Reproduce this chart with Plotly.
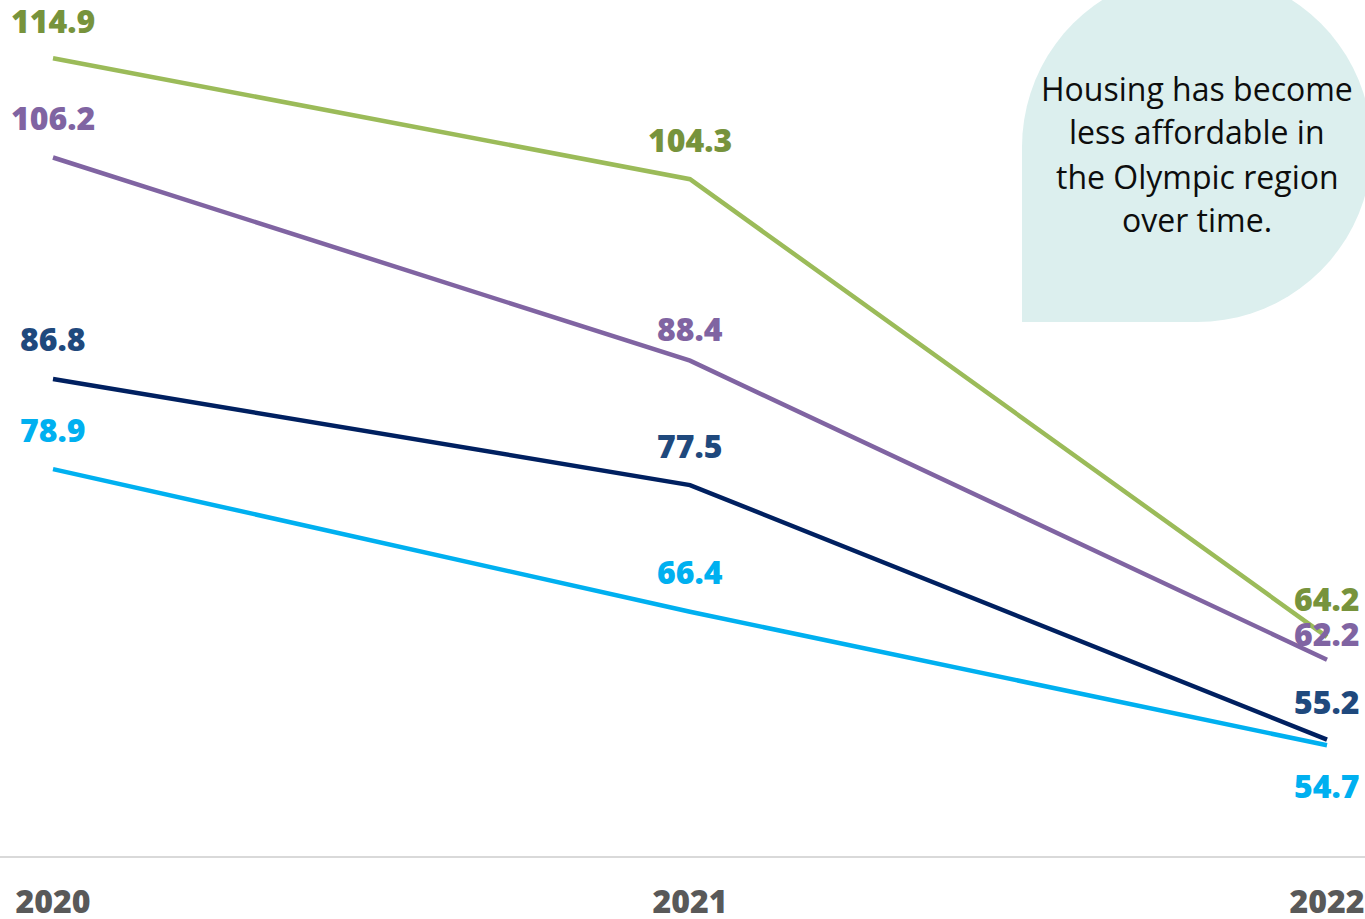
import math
import plotly.graph_objects as go

# Housing affordability index, Olympic region
years = [2020, 2021, 2022]
series_names = ["Series A", "Series B", "Series C", "Series D"]
series_a = [114.9, 104.3, 64.2]
series_b = [106.2, 88.4, 62.2]
series_c = [86.8, 77.5, 55.2]
series_d = [78.9, 66.4, 54.7]
tick_labels = ["2020", "2021", "2022"]
callout_lines = ["Housing has become", "less affordable in", "the Olympic region", "over time."]

W, H = 1365, 919
PLOT_BOTTOM = 856  # pixel row of the x axis line

line_colors = ["#9BBB59", "#8064A2", "#002060", "#00B0F0"]
label_colors = ["#77933C", "#8064A2", "#1F497D", "#00B0F0"]
# vertical label offsets in px (positive = up), one per point
label_shifts = [
    [38, 40, 38],
    [40, 32, 26],
    [40, 40, 38],
    [40, 40, -40],
]

fig = go.Figure()
all_series = [series_a, series_b, series_c, series_d]
for name, vals, lc in zip(series_names, all_series, line_colors):
    fig.add_trace(go.Scatter(
        x=years, y=vals, mode="lines", name=name,
        line=dict(color=lc, width=4.5), hoverinfo="skip", showlegend=False,
    ))

annotations = []
for vals, col, shifts in zip(all_series, label_colors, label_shifts):
    for x, v, s in zip(years, vals, shifts):
        annotations.append(dict(
            x=x, y=v, text=f"{v:.1f}", showarrow=False, yshift=s,
            xanchor="center", yanchor="middle",
            font=dict(family="Open Sans", size=32, color=col, weight=800),
        ))


def to_paper(px, py):
    return px / W, (PLOT_BOTTOM - py) / PLOT_BOTTOM


# callout bubble: circle with a square lower-left corner
cx, cy, r = 1197, 147, 175
pts = [(cx - r, cy + r), (cx - r, cy)]
n = 60
for i in range(n + 1):
    a = math.pi + i * (1.5 * math.pi) / n  # left, over the top, round the right, to the bottom
    pts.append((cx + r * math.cos(a), cy + r * math.sin(a)))
path = ""
for i, (px, py) in enumerate(pts):
    xp, yp = to_paper(px, py)
    path += ("M" if i == 0 else "L") + f"{xp:.5f},{yp:.5f}"
path += "Z"

shapes = [dict(type="path", path=path, xref="paper", yref="paper",
               fillcolor="#DCEFEE", line=dict(width=0), layer="below")]

for i, txt in enumerate(callout_lines):
    xp, yp = to_paper(1197, 88 + 44 * i)
    annotations.append(dict(
        x=xp, y=yp, xref="paper", yref="paper", text=txt, showarrow=False,
        xanchor="center", yanchor="middle",
        font=dict(family="Open Sans", size=32, color="#0D0D0D"),
    ))

fig.update_layout(
    width=W, height=H,
    margin=dict(l=0, r=0, t=0, b=H - PLOT_BOTTOM, autoexpand=False),
    plot_bgcolor="white", paper_bgcolor="white",
    shapes=shapes, annotations=annotations,
    xaxis=dict(
        range=[2020 - 53 / 637, 2022 + 38 / 637],
        tickvals=years, ticktext=tick_labels, showgrid=False, zeroline=False,
        showline=True, linecolor="#D9D9D9", linewidth=2, ticks="",
        ticklabelstandoff=17, automargin=False,
        tickfont=dict(family="Open Sans", size=32, color="#595959", weight=800),
    ),
    yaxis=dict(range=[45, 120], visible=False, showgrid=False, zeroline=False,
               automargin=False),
)

fig.write_html("out.html")
